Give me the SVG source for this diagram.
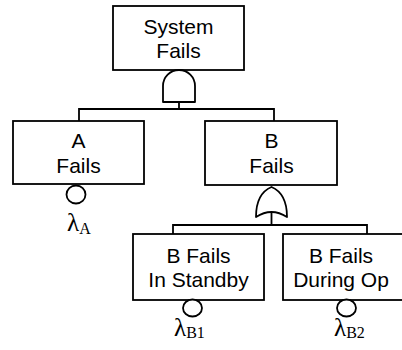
<svg xmlns="http://www.w3.org/2000/svg" width="402" height="350" viewBox="0 0 402 350">
<style>
.box{fill:#fff;stroke:#000;stroke-width:1.8}
.gate{fill:#fff;stroke:#000;stroke-width:1.8;stroke-linejoin:round}
.ln{fill:none;stroke:#000;stroke-width:1.8}
.t{font-family:"Liberation Sans",Arial,sans-serif;font-size:21px;text-anchor:middle;fill:#000}
.lam{font-family:"Liberation Serif","Times New Roman",serif;font-size:25px;fill:#000}
.sub{font-size:16px}
</style>
<rect width="402" height="350" fill="#fff"/>
<g id="connectors">
<path class="ln" d="M179,102 V109 M79,121 V109 H274 V121"/>
<path class="ln" d="M271.5,212 V225 M173,234 V225 H367 V234"/>
</g>
<g id="system-fails">
<rect class="box" x="113" y="6" width="131" height="64"/>
<text class="t" x="178.5" y="34">System</text>
<text class="t" x="178.5" y="58">Fails</text>
</g>
<g id="and-gate">
<path class="gate" d="M163,102 V86 A16,16 0 0 1 195,86 V102 Z"/>
</g>
<g id="a-fails">
<rect class="box" x="13" y="121" width="131" height="63"/>
<text class="t" x="78.5" y="148">A</text>
<text class="t" x="78.5" y="173">Fails</text>
<ellipse class="gate" cx="76" cy="194.5" rx="9.5" ry="9"/>
<text class="lam" x="67" y="231">λ<tspan class="sub" dy="3">A</tspan></text>
</g>
<g id="b-fails">
<rect class="box" x="205" y="121" width="132" height="64"/>
<text class="t" x="271.5" y="148">B</text>
<text class="t" x="271.5" y="173">Fails</text>
</g>
<g id="or-gate">
<path class="gate" d="M256,217 C256,200 262,191 271.5,187 C281,191 287,200 287,217 Q271.5,207 256,217 Z"/>
</g>
<g id="b-standby">
<rect class="box" x="133" y="234" width="131" height="66"/>
<text class="t" x="198.5" y="263">B Fails</text>
<text class="t" x="198.5" y="287">In Standby</text>
<ellipse class="gate" cx="192.5" cy="308" rx="9.5" ry="8.5"/>
<text class="lam" x="174" y="336">λ<tspan class="sub" dy="2">B1</tspan></text>
</g>
<g id="b-during-op">
<rect class="box" x="283" y="234" width="131" height="66"/>
<text class="t" x="341" y="263">B Fails</text>
<text class="t" x="341" y="287">During Op</text>
<ellipse class="gate" cx="346.5" cy="308" rx="9.5" ry="8.5"/>
<text class="lam" x="334" y="336">λ<tspan class="sub" dy="2">B2</tspan></text>
</g>
</svg>
